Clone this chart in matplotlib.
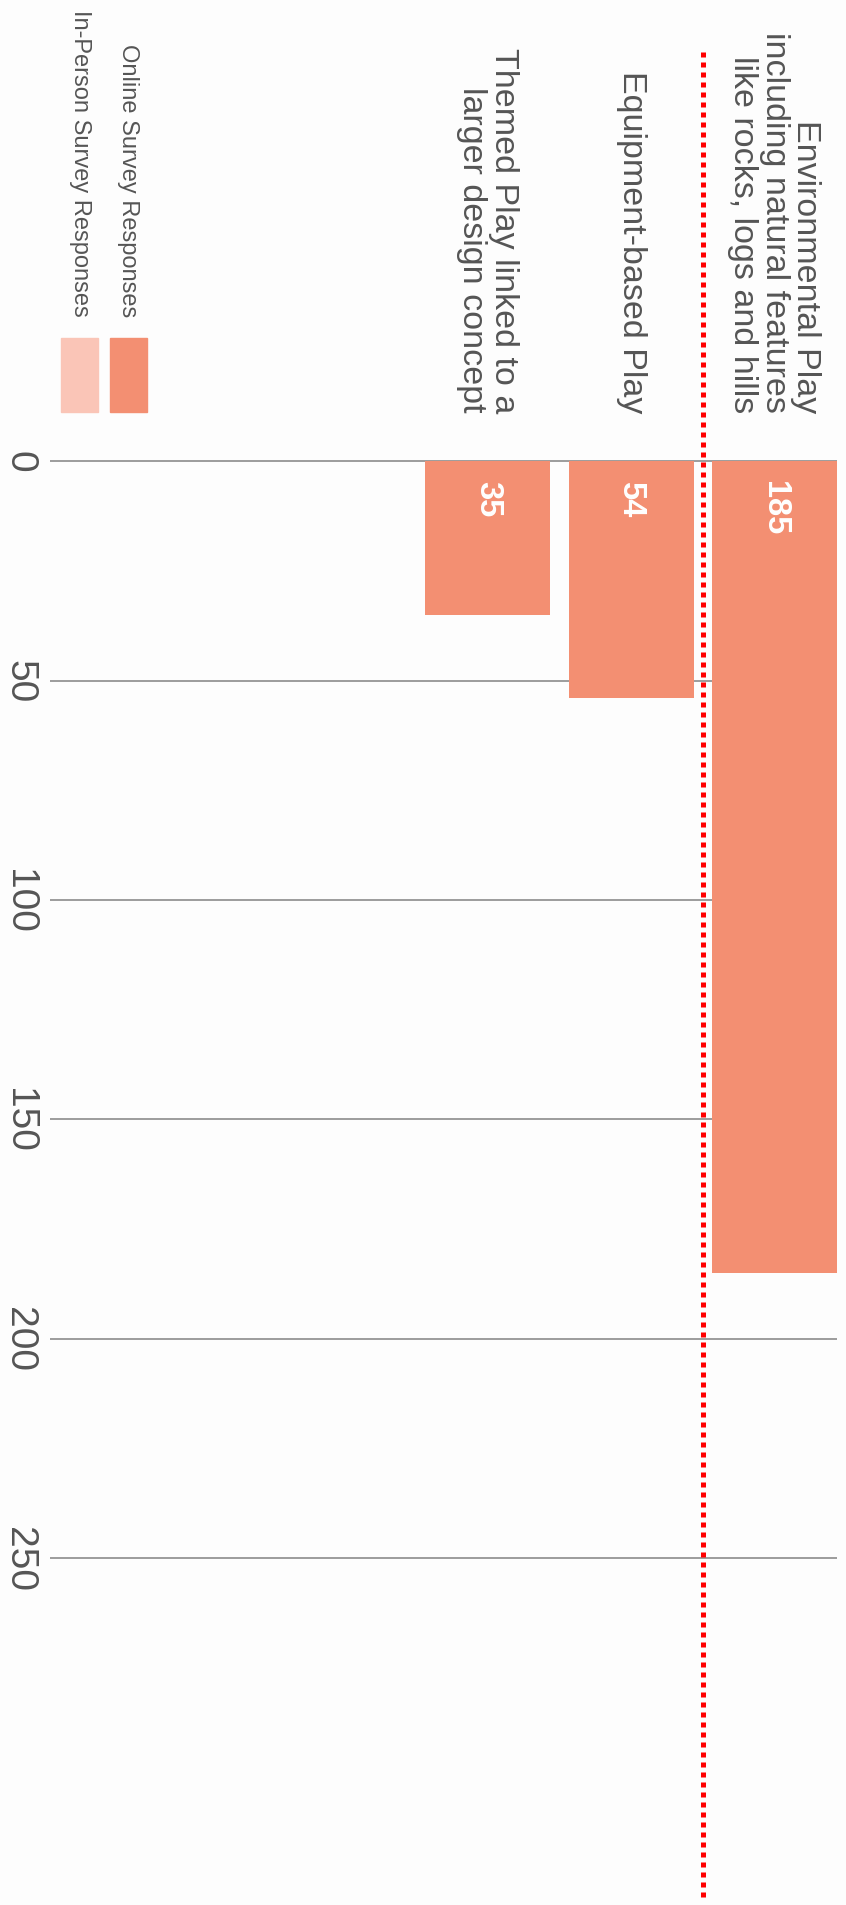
import matplotlib
matplotlib.use("Agg")
import matplotlib.pyplot as plt
from matplotlib.patches import Rectangle

# ---- data ----
categories = [
    "Environmental Play\nincluding natural features\nlike rocks, logs and hills",
    "Equipment-based Play",
    "Themed Play linked to a\nlarger design concept",
]
online_values = [185, 54, 35]
in_person_values = [0, 0, 0]
value_ticks = [0, 50, 100, 150, 200, 250]
series_names = ["Online Survey Responses", "In-Person Survey Responses"]

# ---- style ----
W, H, DPI = 846, 1906, 100
bar_color = "#f38f72"
light_color = "#fac5b7"
text_color = "#555555"
grid_color = "#8c8c8c"
bg = "#fdfdfd"

plt.rcParams["font.family"] = ["Liberation Sans", "DejaVu Sans"]

fig = plt.figure(figsize=(W / DPI, H / DPI), dpi=DPI, facecolor=bg)
ax = fig.add_axes([0, 0, 1, 1])
ax.set_facecolor(bg)
ax.axis("off")

# pixel mapping helpers (layout only)
x0_px, step_px = 774.2, 143.2
zero_px, unit_px = 462.3, 4.388


def px_to_i(px):
    return (x0_px - px) / step_px


def py_to_v(py):
    return (py - zero_px) / unit_px


ax.set_xlim(px_to_i(0), px_to_i(W))
ax.set_ylim(py_to_v(H), py_to_v(0))

pos = list(range(len(categories)))
bw = 125 / step_px

# gridlines
ax.hlines(value_ticks, px_to_i(50), px_to_i(836.7), colors=grid_color,
          linewidth=1.2, zorder=1)
for t in value_ticks:
    ax.text(px_to_i(19), t, str(t), rotation=-90, ha="center", va="center",
            fontsize=28, color=text_color, zorder=3)

# bars
ax.bar(pos, online_values, width=bw, color=bar_color, zorder=2)
ax.bar(pos, in_person_values, bottom=online_values, width=bw,
       color=light_color, zorder=2)

# value labels
for i, v in zip(pos, online_values):
    ax.text(i, py_to_v(481), str(v), rotation=-90, rotation_mode="anchor",
            ha="left", va="center", fontsize=23.5, fontweight="bold",
            color="white", zorder=4)

# category labels
for i, c in zip(pos, categories):
    ax.text(i, py_to_v(413), c, rotation=-90, rotation_mode="anchor",
            ha="right", va="center", multialignment="right",
            fontsize=24.5, color=text_color, linespacing=1.03, zorder=4)

# red dotted reference line
ax.vlines(0.5, py_to_v(53), py_to_v(1899), colors="#ff0000", linewidth=3.6,
          linestyles=[(0, (1.0, 1.0))], zorder=5)

# legend (manual, rotated)
legend_items = [(128, bar_color, series_names[0]),
                (79.5, light_color, series_names[1])]
for cx, col, name in legend_items:
    fig.patches.append(Rectangle(((cx - 18.5) / W, (H - 413) / H), 37 / W, 74 / H,
                                 transform=fig.transFigure, color=col, zorder=3))
    fig.text(cx / W, (H - 317) / H, name, rotation=-90, rotation_mode="anchor",
             ha="right", va="center", fontsize=17, color=text_color)

fig.savefig("out.png", dpi=DPI, facecolor=bg)
